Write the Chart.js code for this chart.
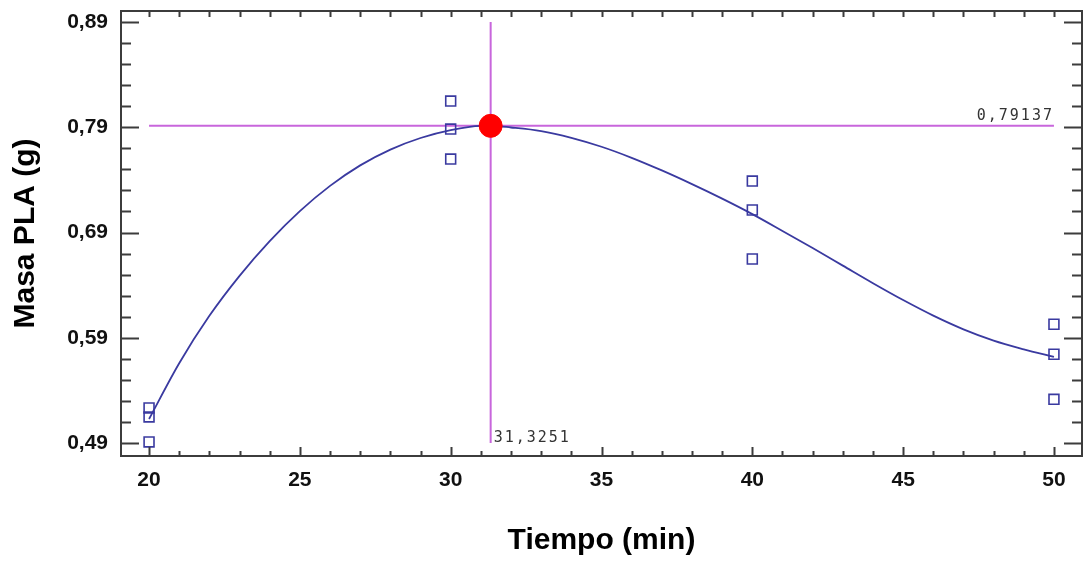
<!DOCTYPE html>
<html lang="es">
<head>
    <meta charset="UTF-8">
    <title>Masa PLA vs Tiempo</title>
    <script src="https://cdn.jsdelivr.net/npm/chart.js"></script>
    <style>
        html, body { margin: 0; padding: 0; background: #fff; }
        #wrap { width: 1084px; height: 561px; }
    </style>
</head>
<body>
<div id="wrap"><canvas id="graf"></canvas></div>
<script>
    // observed values (3 replicas per time level)
    const tiempoObs = [20, 20, 20, 30, 30, 30, 40, 40, 40, 50, 50, 50];
    const masaObs = [0.5233, 0.5147, 0.4910, 0.8149, 0.7883, 0.7598, 0.7389, 0.7114, 0.6648, 0.6028, 0.5743, 0.5315];

    // fitted curve
    const tiempoAjuste = [20, 21, 22, 23, 24, 25, 26, 27, 28, 29, 30, 31, 31.3251, 32, 33, 34, 35, 36, 37, 38, 39, 40, 41, 42, 43, 44, 45, 46, 47, 48, 49, 50];
    const masaAjuste = [0.5128, 0.5658, 0.6108, 0.6488, 0.6818, 0.7103, 0.7343, 0.7538, 0.7688, 0.7798, 0.7873, 0.7913, 0.79137, 0.7898, 0.7864, 0.7800, 0.7715, 0.7610, 0.7490, 0.7360, 0.7222, 0.7075, 0.6915, 0.6752, 0.6585, 0.6418, 0.6258, 0.6110, 0.5980, 0.5873, 0.5790, 0.5717];

    // optimum
    const tiempoOpt = 31.3251;
    const masaOpt = 0.79137;

    const xTicks = [20, 25, 30, 35, 40, 45, 50];
    const yTicks = [0.49, 0.59, 0.69, 0.79, 0.89];

    const coma = v => String(v).replace('.', ',');

    // frame + inward ticks + optimum labels
    const marco = {
        id: 'marco',
        afterDatasetsDraw(chart) {
            const ctx = chart.ctx;
            const a = chart.chartArea;
            const xs = chart.scales.x, ys = chart.scales.y;
            ctx.save();
            ctx.strokeStyle = '#3c3c3c';
            ctx.lineWidth = 2;
            ctx.strokeRect(a.left, a.top, a.right - a.left, a.bottom - a.top);

            ctx.beginPath();
            // x ticks, every 1 min, long at 5
            for (let t = 20; t <= 50; t++) {
                const px = Math.round(xs.getPixelForValue(t)) + 0.5;
                const big = t % 5 === 0;
                ctx.moveTo(px, a.bottom); ctx.lineTo(px, a.bottom - (big ? 9 : 5));
                ctx.moveTo(px, a.top); ctx.lineTo(px, a.top + 6);
            }
            // y ticks, every 0.02, long at labels
            for (let i = 0; i <= 20; i++) {
                const v = 0.49 + i * 0.02;
                const py = Math.round(ys.getPixelForValue(v)) + 0.5;
                const big = i % 5 === 0;
                const len = big ? 18 : 10;
                ctx.moveTo(a.left, py); ctx.lineTo(a.left + len, py);
                ctx.moveTo(a.right, py); ctx.lineTo(a.right - len, py);
            }
            ctx.stroke();

            // optimum readouts
            ctx.fillStyle = '#333';
            ctx.font = '15px "DejaVu Sans Mono"';
            ctx.letterSpacing = '2px';
            ctx.textBaseline = 'bottom';
            ctx.textAlign = 'right';
            ctx.fillText(coma(masaOpt), xs.getPixelForValue(50), ys.getPixelForValue(masaOpt) - 2);
            ctx.textAlign = 'left';
            ctx.textBaseline = 'middle';
            ctx.fillText(coma(tiempoOpt), xs.getPixelForValue(tiempoOpt) + 3, ys.getPixelForValue(0.49) - 5);
            ctx.restore();
        }
    };

    const morado = '#c866dc';
    const azul = '#3a3aa0';

    new Chart(document.getElementById('graf'), {
        type: 'scatter',
        data: {
            datasets: [
                {
                    label: 'optimo',
                    data: [{ x: tiempoOpt, y: masaOpt }],
                    pointRadius: 11.5,
                    pointBackgroundColor: '#ff0000',
                    pointBorderColor: '#ff0000',
                    order: 0
                },
                {
                    label: 'observado',
                    data: tiempoObs.map((t, i) => ({ x: t, y: masaObs[i] })),
                    pointStyle: 'rect',
                    pointRadius: 7,
                    pointBorderWidth: 1.6,
                    pointBorderColor: azul,
                    pointBackgroundColor: 'rgba(0,0,0,0)',
                    order: 1
                },
                {
                    label: 'ajuste',
                    data: tiempoAjuste.map((t, i) => ({ x: t, y: masaAjuste[i] })),
                    showLine: true,
                    pointRadius: 0,
                    borderColor: azul,
                    borderWidth: 1.8,
                    cubicInterpolationMode: 'monotone',
                    order: 2
                },
                {
                    label: 'h',
                    data: [{ x: 20, y: masaOpt }, { x: 50, y: masaOpt }],
                    showLine: true,
                    pointRadius: 0,
                    borderColor: morado,
                    borderWidth: 2,
                    order: 3
                },
                {
                    label: 'v',
                    data: [{ x: tiempoOpt, y: 0.49 }, { x: tiempoOpt, y: 0.89 }],
                    showLine: true,
                    pointRadius: 0,
                    borderColor: morado,
                    borderWidth: 2,
                    order: 3
                }
            ]
        },
        options: {
            responsive: true,
            maintainAspectRatio: false,
            animation: false,
            events: [],
            layout: { autoPadding: false, padding: { top: 11, right: 2, left: 0, bottom: 0 } },
            plugins: { legend: { display: false }, tooltip: { enabled: false } },
            scales: {
                x: {
                    min: 19.07,
                    max: 50.93,
                    afterBuildTicks: s => { s.ticks = xTicks.map(v => ({ value: v })); },
                    afterFit: s => { s.height = 105; s.paddingLeft = 0; s.paddingRight = 0; },
                    grid: { display: false, drawTicks: false },
                    border: { display: false },
                    ticks: {
                        color: '#111',
                        padding: 12,
                        maxRotation: 0,
                        font: { family: 'Liberation Sans, Arial', size: 21, weight: 'bold' },
                        callback: v => String(v)
                    },
                    title: {
                        display: true,
                        text: 'Tiempo (min)',
                        color: '#000',
                        font: { family: 'Liberation Sans, Arial', size: 30, weight: 'bold' },
                        padding: { top: 0, bottom: 2 }
                    }
                },
                y: {
                    min: 0.4776,
                    max: 0.9005,
                    afterBuildTicks: s => { s.ticks = yTicks.map(v => ({ value: v })); },
                    afterFit: s => { s.width = 121; s.paddingTop = 0; s.paddingBottom = 0; },
                    grid: { display: false, drawTicks: false },
                    border: { display: false },
                    ticks: {
                        color: '#111',
                        padding: 13,
                        font: { family: 'Liberation Sans, Arial', size: 21, weight: 'bold' },
                        callback: v => coma(v.toFixed(2))
                    },
                    title: {
                        display: true,
                        text: 'Masa PLA (g)',
                        color: '#000',
                        font: { family: 'Liberation Sans, Arial', size: 30, weight: 'bold' },
                        padding: { top: 8, bottom: 0 }
                    }
                }
            }
        },
        plugins: [marco]
    });
</script>
</body>
</html>
